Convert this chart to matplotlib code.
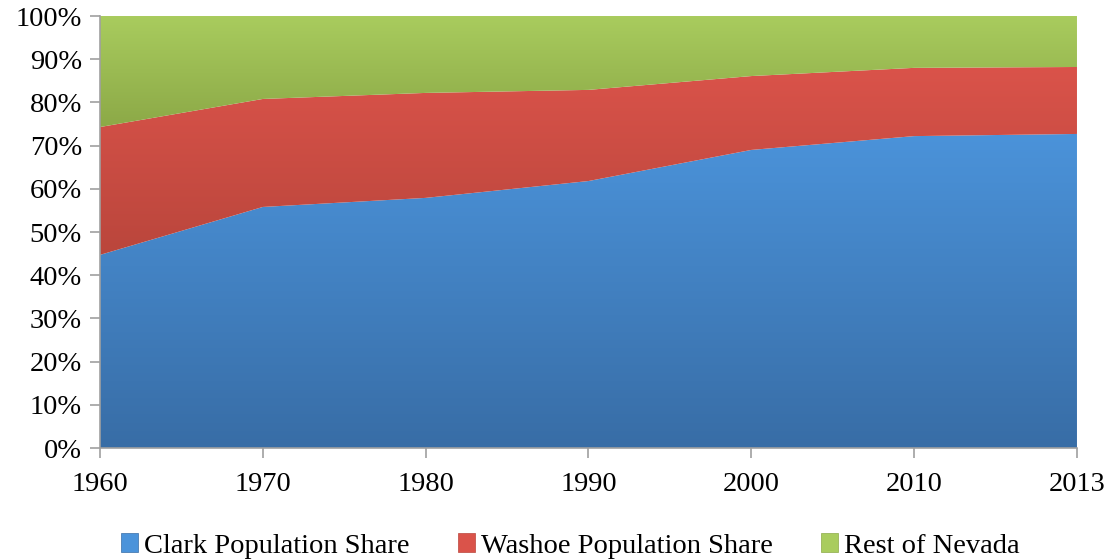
import numpy as np
import matplotlib
matplotlib.use("Agg")
import matplotlib.pyplot as plt
from matplotlib.colors import LinearSegmentedColormap
from matplotlib.patches import Patch

years = ["1960", "1970", "1980", "1990", "2000", "2010", "2013"]
clark = [44.7, 55.8, 57.9, 61.8, 69.0, 72.2, 72.7]
washoe = [29.6, 25.0, 24.3, 21.1, 17.1, 15.8, 15.5]
rest = [25.7, 19.2, 17.8, 17.1, 13.9, 12.0, 11.8]
labels = ["Clark Population Share", "Washoe Population Share", "Rest of Nevada"]
# (top colour, bottom colour) for each series
grads = [("#4B93DA", "#386DA6"), ("#DA534A", "#BA463C"), ("#A9CC5E", "#8CA947")]

plt.rcParams['font.family'] = ['Liberation Serif', 'DejaVu Serif']

fig = plt.figure(figsize=(11.12, 5.6), dpi=100)
ax = fig.add_axes([0.0899, 0.2, 0.8786, 0.7714])

x = np.arange(len(years))
series = [np.array(clark), np.array(washoe), np.array(rest)]
lower = np.zeros(len(years))
for vals, (ctop, cbot) in zip(series, grads):
    upper = lower + vals
    poly = ax.fill_between(x, lower / 100, upper / 100, color="none", lw=0)
    cmap = LinearSegmentedColormap.from_list("g", [cbot, ctop])
    y0, y1 = lower.min() / 100, upper.max() / 100
    grad = np.linspace(0, 1, 256).reshape(-1, 1)
    im = ax.imshow(grad, cmap=cmap, origin="lower", aspect="auto",
                   extent=[x[0], x[-1], y0, y1], interpolation="bilinear")
    im.set_clip_path(poly.get_paths()[0], transform=ax.transData)
    lower = upper

ax.set_xlim(x[0], x[-1])
ax.set_ylim(0, 1)
ax.set_xticks(x)
ax.set_xticklabels(years)
ax.set_yticks(np.linspace(0, 1, 11))
ax.set_yticklabels([f"{int(v)}%" for v in np.arange(0, 101, 10)])
for s in ["top", "right"]:
    ax.spines[s].set_visible(False)
for s in ["left", "bottom"]:
    ax.spines[s].set_color("#A0A0A0")
    ax.spines[s].set_linewidth(1.2)
ax.tick_params(axis="both", colors="#A0A0A0", labelcolor="black",
               labelsize=20.5, length=7, width=1.2)
ax.tick_params(axis="x", pad=10)
ax.tick_params(axis="y", pad=6)

handles = [Patch(facecolor=c[0], edgecolor=c[1], lw=0.5) for c in grads]
fig.legend(handles, labels, loc="center", bbox_to_anchor=(0.513, 0.025),
           ncol=3, frameon=False, fontsize=20.5, handlelength=0.6,
           handleheight=0.6, handletextpad=0.2, columnspacing=1.7)

fig.savefig("out.png", dpi=100)
